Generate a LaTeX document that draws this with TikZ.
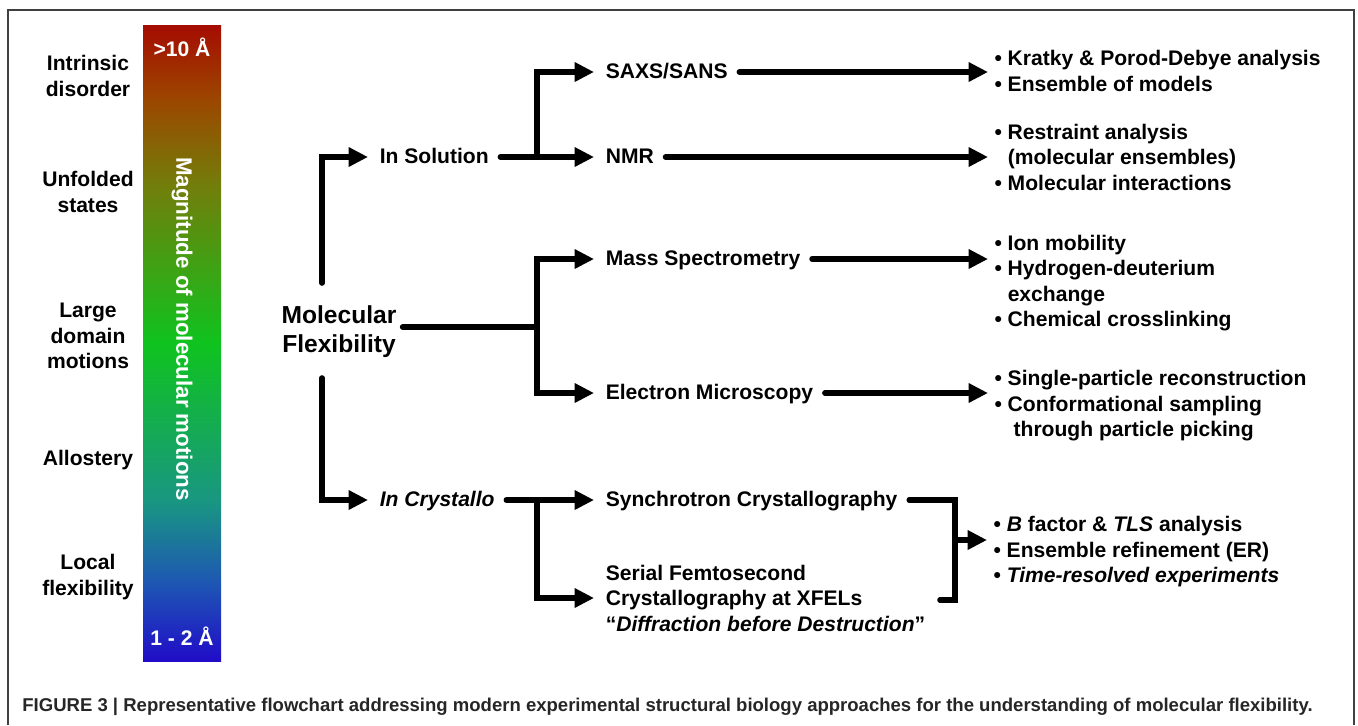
\documentclass[tikz,border=0pt]{standalone}
\usepackage{fontspec}
\setmainfont{Liberation Sans}
\usetikzlibrary{arrows.meta}
\definecolor{barred}{RGB}{165,12,0}
\definecolor{barbrown}{RGB}{155,72,0}
\definecolor{barolive}{RGB}{115,125,10}
\definecolor{bargreen}{RGB}{15,195,30}
\definecolor{barteal}{RGB}{25,150,130}
\definecolor{barblue}{RGB}{30,85,180}
\definecolor{barviolet}{RGB}{32,12,200}
\pgfdeclareverticalshading{magbar}{100bp}{color(0bp)=(barviolet); color(25bp)=(barviolet);
  color(31bp)=(barblue); color(37.5bp)=(barteal); color(50bp)=(bargreen);
  color(62.5bp)=(barolive); color(69bp)=(barbrown); color(75bp)=(barred); color(100bp)=(barred)}
\newcommand{\itm}{\textbullet\ }
\newcommand{\cont}{\hphantom{\textbullet\ }}

\begin{document}
\begin{tikzpicture}[x=0.02cm, y=-0.02cm,
    lbl/.style = {font=\fontsize{12}{14.5}\selectfont\bfseries, align=center},
    mid/.style = {font=\fontsize{12}{14.5}\selectfont\bfseries, anchor=west, inner xsep=6.5pt, text height=9.5pt, text depth=2pt},
    res/.style = {font=\fontsize{12}{14.5}\selectfont\bfseries, anchor=west, align=left, inner xsep=3.5pt},
    flow/.style = {line width=3.2pt, line cap=round, -{Triangle[length=11pt,width=10.5pt]}},
    link/.style = {line width=3.2pt, line cap=round}]
    \useasboundingbox (0,0) rectangle (1358,725);
    \draw[black!75, line width=0.8pt] (8,725) -- (8,10) -- (1354,10) -- (1354,725);
    % scale bar
    \shade[shading=magbar] (143,25) rectangle (221,661);
    \node[lbl, white] (big) at (182,47) {>10 Å};
    \node[lbl, white] (small) at (182,636) {1 - 2 Å};
    \node[lbl, white, rotate=-90, font=\fontsize{12.7}{14.5}\selectfont\bfseries] (mag) at (182,329) {Magnitude of molecular motions};
    % motions
    \node[lbl] (disorder) at (88,76) {Intrinsic\\disorder};
    \node[lbl] (unfolded) at (88,192) {Unfolded\\states};
    \node[lbl] (domain) at (88,336) {Large\\domain\\motions};
    \node[lbl] (allo) at (88,460) {Allostery};
    \node[lbl] (local) at (88,577) {Local\\flexibility};
    % methods
    \node[lbl, font=\fontsize{14}{16.5}\selectfont\bfseries] (mf) at (339,332) {Molecular\\Flexibility};
    \node[mid] (sol) at (368,157) {In Solution};
    \node[mid] (cry) at (368,500) {\textit{In Crystallo}};
    \node[mid] (saxs) at (594,72) {SAXS/SANS};
    \node[mid] (nmr) at (594,157) {NMR};
    \node[mid] (ms) at (594,259) {Mass Spectrometry};
    \node[mid] (em) at (594,393) {Electron Microscopy};
    \node[mid] (syn) at (594,500) {Synchrotron Crystallography};
    \node[res, inner xsep=6.5pt] (sfx) at (594,598) {Serial Femtosecond\\Crystallography at XFELs\\“\textit{Diffraction before Destruction}”};
    % results
    \node[res] (saxsres) at (988,71) {\itm Kratky \& Porod-Debye analysis\\\itm Ensemble of models};
    \node[res] (nmrres) at (988,157) {\itm Restraint analysis\\\cont(molecular ensembles)\\\itm Molecular interactions};
    \node[res] (msres) at (988,283) {\itm Ion mobility\\\itm Hydrogen-deuterium\\\cont exchange\\\itm Chemical crosslinking};
    \node[res] (emres) at (988,406) {\itm Single-particle reconstruction\\\itm Conformational sampling\\\cont\ through particle picking};
    \node[res] (cryres) at (987,552) {\itm \textit{B} factor \& \textit{TLS} analysis\\\itm Ensemble refinement (ER)\\\itm \textit{Time-resolved experiments}};
    \coordinate (up) at (322,283);
    \coordinate (dn) at (322,378);
    \coordinate (jm) at (537,327);
    \coordinate (js) at (537,157);
    \coordinate (jc) at (537,500);
    \coordinate (jx) at (955,540);
    \coordinate (bend) at (955,600);
    \coordinate (bkend) at (940,600);
    \draw[flow] (up) |- (sol.west);
    \draw[flow] (dn) |- (cry.west);
    \draw[link] (mf.east |- jm) -- (jm);
    \draw[flow] (jm) |- (ms.west);
    \draw[flow] (jm) |- (em.west);
    \draw[flow] (sol.east) -- (nmr.west);
    \draw[flow] (js) |- (saxs.west);
    \draw[flow] (cry.east) -- (syn.west);
    \draw[flow] (jc) |- (sfx.west);
    \draw[flow] (saxs.east) -- (saxs.east -| saxsres.west);
    \draw[flow] (nmr.east) -- (nmr.east -| nmrres.west);
    \draw[flow] (ms.east) -- (ms.east -| msres.west);
    \draw[flow] (em.east) -- (em.east -| emres.west);
    \draw[link] (syn.east) -| (bend) -- (bkend);
    \draw[flow] (jx) -- (jx -| cryres.west);
    % caption
    \node[anchor=west, inner sep=0pt, text=black!85, font=\fontsize{10.55}{12}\selectfont\bfseries] (cap) at (22,707) {FIGURE 3 | Representative flowchart addressing modern experimental structural biology approaches for the understanding of molecular flexibility.};
\end{tikzpicture}
\end{document}
